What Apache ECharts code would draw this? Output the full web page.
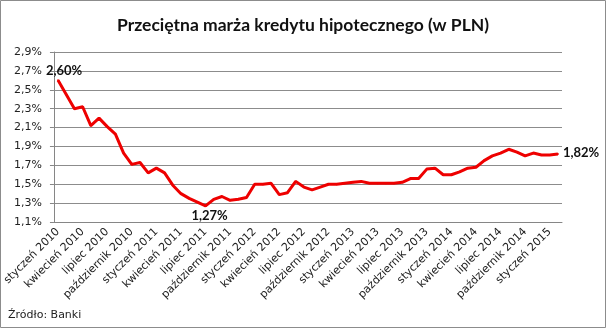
<!DOCTYPE html>
<html>
<head>
<meta charset="utf-8">
<script src="https://cdn.jsdelivr.net/npm/echarts@6/dist/echarts.min.js"></script>
<style>
  html, body { margin: 0; padding: 0; background: #fff; }
  #chart { width: 606px; height: 328px; }
</style>
</head>
<body>
<div id="chart"></div>
<script>
// miesiące i lata na osi X
const monthNames = ['styczeń', 'luty', 'marzec', 'kwiecień', 'maj', 'czerwiec',
  'lipiec', 'sierpień', 'wrzesień', 'październik', 'listopad', 'grudzień'];
const years = [2010, 2011, 2012, 2013, 2014, 2015];
const monthCount = 62; // styczeń 2010 - luty 2015

// przeciętna marża (%)
const margin = [
  2.60, 2.45, 2.30, 2.32, 2.12, 2.20, 2.11, 2.03, 1.83, 1.71, 1.73, 1.62,
  1.67, 1.62, 1.49, 1.40, 1.35, 1.31, 1.27, 1.34, 1.37, 1.33, 1.34, 1.36,
  1.50, 1.50, 1.51, 1.39, 1.41, 1.53, 1.47, 1.44, 1.47, 1.50, 1.50, 1.51,
  1.52, 1.53, 1.51, 1.51, 1.51, 1.51, 1.52, 1.56, 1.56, 1.66, 1.67, 1.60,
  1.60, 1.63, 1.67, 1.68, 1.75, 1.80, 1.83, 1.87, 1.84, 1.80, 1.83, 1.81,
  1.81, 1.82
];

const yTicks = { min: 1.1, max: 2.9, step: 0.2 };

const categories = [];
for (let i = 0; i < monthCount; i++) {
  categories.push(monthNames[i % 12] + ' ' + years[Math.floor(i / 12)]);
}

const fmt = v => v.toFixed(2).replace('.', ',') + '%';

// etykiety: pierwszy punkt, minimum, ostatni
const minIdx = margin.indexOf(Math.min(...margin));
const lastIdx = margin.length - 1;
const labelBase = { show: true, fontFamily: 'Lato', fontWeight: 'bold', fontSize: 13, color: '#111',
  formatter: p => fmt(p.value) };
const seriesData = margin.map((v, i) => {
  if (i === 0) return { value: v, label: { ...labelBase, position: 'top', offset: [6, 3] } };
  if (i === minIdx) return { value: v, label: { ...labelBase, position: 'bottom', offset: [4, -3] } };
  if (i === lastIdx) return { value: v, label: { ...labelBase, position: 'right', offset: [-1, -1] } };
  return v;
});

const chart = echarts.init(document.getElementById('chart'));
chart.setOption({
  animation: false,
  backgroundColor: '#fff',
  title: {
    text: 'Przeciętna marża kredytu hipotecznego (w PLN)',
    left: 'center',
    top: 11,
    textStyle: { fontFamily: 'Lato', fontWeight: 'bold', fontSize: 17.5, color: '#111' }
  },
  graphic: [
    {
      type: 'rect',
      shape: { x: 0.5, y: 0.5, width: 605, height: 327 },
      style: { fill: 'none', stroke: '#8c8c8c', lineWidth: 1 },
      silent: true
    },
    {
      type: 'text',
      left: 8,
      top: 310,
      style: { text: 'Źródło: Banki', fontFamily: 'DejaVu Sans', fontSize: 11, fill: '#222' }
    }
  ],
  grid: { left: 53, right: 44, top: 52, bottom: 106 },
  xAxis: {
    type: 'category',
    data: categories,
    boundaryGap: true,
    axisLine: { lineStyle: { color: '#868686', width: 1 } },
    axisTick: { interval: 2, length: 5, lineStyle: { color: '#868686' } },
    axisLabel: {
      interval: 2,
      rotate: 45,
      margin: 8,
      fontFamily: 'DejaVu Sans',
      fontSize: 11,
      color: '#222'
    }
  },
  yAxis: {
    type: 'value',
    min: yTicks.min,
    max: yTicks.max,
    interval: yTicks.step,
    axisLine: { show: true, lineStyle: { color: '#868686' } },
    axisTick: { show: true, length: 4, lineStyle: { color: '#868686' } },
    axisLabel: {
      fontFamily: 'DejaVu Sans',
      fontSize: 11,
      color: '#222',
      margin: 12,
      formatter: v => v.toFixed(1).replace('.', ',') + '%'
    },
    splitLine: { lineStyle: { color: '#8c8c8c', width: 1 } }
  },
  series: [
    {
      type: 'line',
      data: seriesData,
      symbol: 'circle',
      symbolSize: 2,
      showSymbol: true,
      showAllSymbol: true,
      lineStyle: { color: '#ee0000', width: 3 },
      itemStyle: { color: '#ee0000' }
    }
  ]
});
</script>
</body>
</html>
